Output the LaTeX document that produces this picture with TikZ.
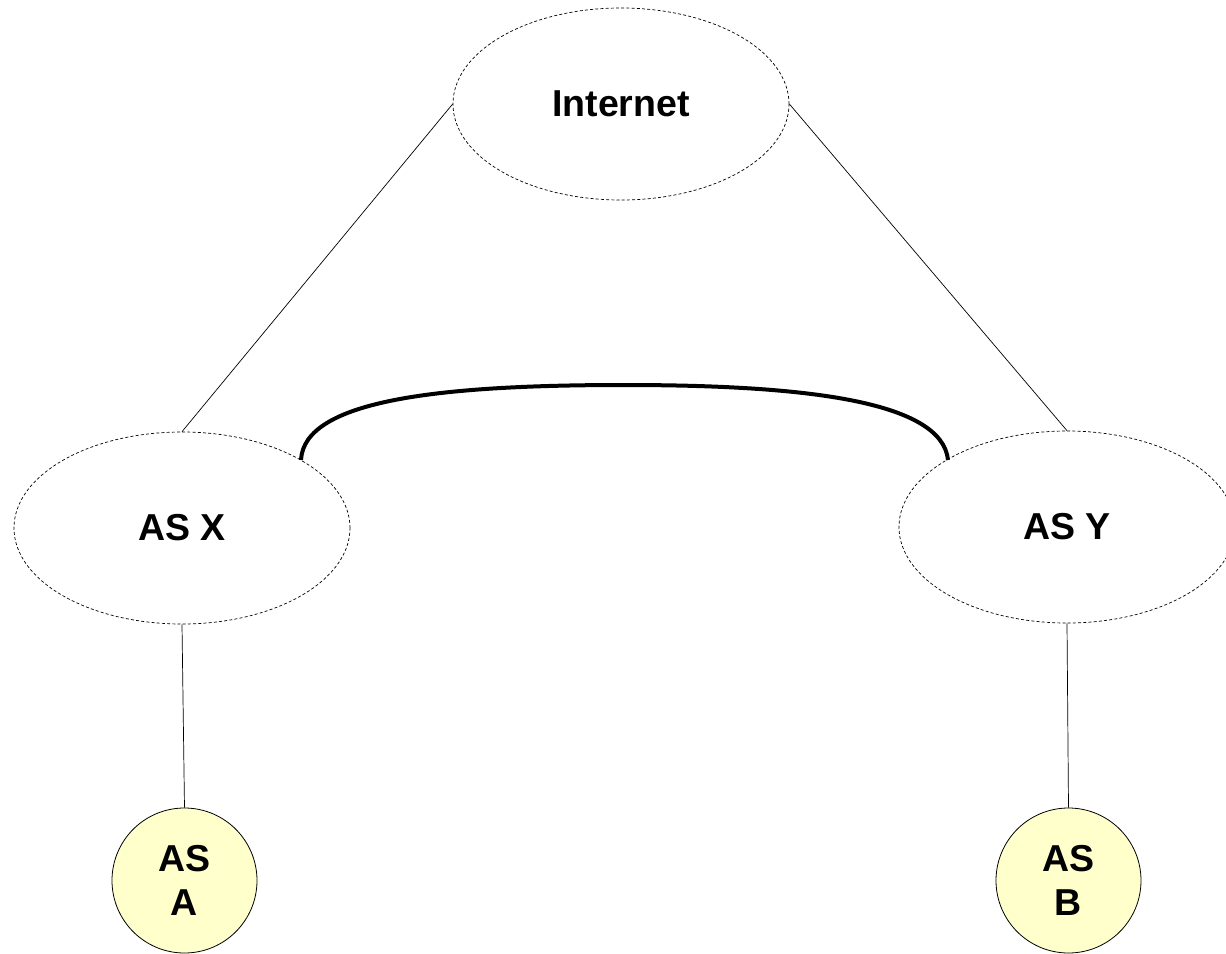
\documentclass[tikz,border=0pt]{standalone}
\usepackage{fontspec}
\setmainfont{Liberation Sans}
\usetikzlibrary{shapes.geometric}
\begin{document}
\begin{tikzpicture}[x=1pt,y=-1pt,
  cloud/.style={draw, dashed, dash pattern=on 3pt off 2.2pt, line width=0.7pt, ellipse, minimum width=336pt, minimum height=192pt, inner sep=0pt, font=\fontsize{37.5}{43}\selectfont\bfseries},
  leaf/.style={draw, circle, fill=leafyellow, line width=0.8pt, minimum size=145pt, inner sep=0pt, align=center, font=\fontsize{37.5}{44}\selectfont\bfseries},
  link/.style={draw, line width=0.7pt},
  peer/.style={draw, line width=4pt}]
\definecolor{leafyellow}{HTML}{FFFFCC}
\useasboundingbox (0,0) rectangle (1226,953);
\node[cloud] (inet) at (621,104) {Internet};
\node[cloud] (asx) at (182,528) {AS X};
\node[cloud] (asy) at (1067,527) {AS Y};
\node[leaf] (asa) at (184.5,880.5) {AS\\A};
\node[leaf] (asb) at (1068.5,880.5) {AS\\B};
\draw[link] (inet.west) -- (asx.north);
\draw[link] (inet.east) -- (asy.north);
\draw[link] (asx.south) -- (asa.north);
\draw[link] (asy.south) -- (asb.north);
\coordinate (arcL) at (301,460);
\coordinate (arcR) at (948,460);
\coordinate (arcT) at (624,385);
\draw[peer] (arcL) .. controls (304,400) and (440,385) .. (arcT) .. controls (800,385) and (942,400) .. (arcR);
\end{tikzpicture}
\end{document}
